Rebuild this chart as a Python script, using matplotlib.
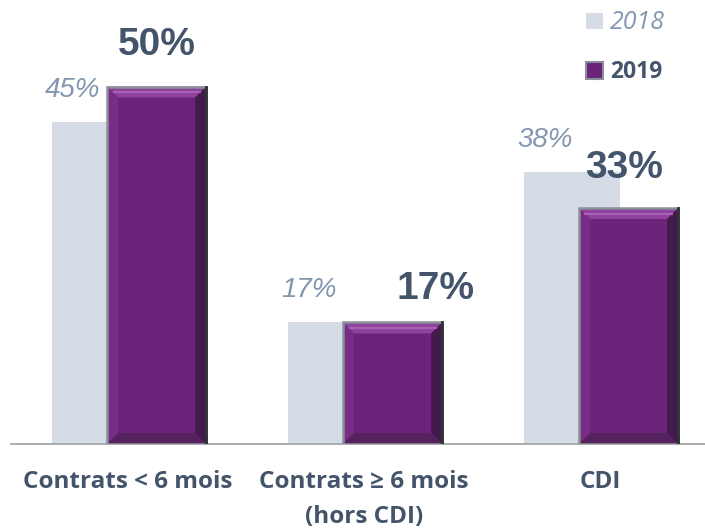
import numpy as np
import matplotlib
matplotlib.use('Agg')
import matplotlib.pyplot as plt
from matplotlib.patches import Polygon, Patch

# data
categories = ['Contrats < 6 mois', 'Contrats \u2265 6 mois\n(hors CDI)', 'CDI']
values_2018 = [45, 17, 38]
values_2019 = [50, 17, 33]
series_names = ['2018', '2019']

# small nudges (in points) for the 2019 labels, as in the original
label_dx_2019 = [0, 31, -3]
label_dy_2019 = [23, 17, 22]

GREY = '#d6dce5'
PURPLE = '#6b2479'
DARK = '#44546a'
LIGHT_TXT = '#8497b0'

fig = plt.figure(figsize=(7.05, 5.32), dpi=100)
ax = fig.add_axes([11 / 705, 88 / 532, 694 / 705, 444 / 532])
ax.set_xlim(-0.496, 2.445)
ax.set_ylim(0, 62.1)

x = np.arange(len(categories))
ax.bar(x - 0.119, values_2018, width=0.407, color=GREY, zorder=1)
bars = ax.bar(x + 0.121, values_2019, width=0.42, color=PURPLE, linewidth=0, zorder=2)

# bevel effect on the 2019 bars
bx = 11 / 236
by = 11 / 7.15
for r in bars:
    x0, w, h = r.get_x(), r.get_width(), r.get_height()
    x1 = x0 + w
    faces = [
        ([(x0, h), (x1, h), (x1 - bx, h - by), (x0 + bx, h - by)], '#8e429d'),
        ([(x0, 0), (x0, h), (x0 + bx, h - by), (x0 + bx, by)], '#782c86'),
        ([(x1, 0), (x1, h), (x1 - bx, h - by), (x1 - bx, by)], '#431a4c'),
        ([(x0, 0), (x1, 0), (x1 - bx, by), (x0 + bx, by)], '#55215f'),
    ]
    for pts, c in faces:
        ax.add_patch(Polygon(pts, closed=True, facecolor=c, edgecolor='none', zorder=3))
    # light stripe in the top bevel
    ax.plot([x0 + bx * 0.5, x1 - bx * 0.5], [h - by * 0.5, h - by * 0.5],
            color='#a862b5', lw=1.5, zorder=3.5, solid_capstyle='butt')
    ax.plot([x1, x1], [0, h], color='#2e2e33', lw=2, zorder=4.5)
ax.bar(x + 0.121, values_2019, width=0.42, facecolor='none',
       edgecolor='#8a9099', linewidth=1.8, zorder=4)

# value labels
for i, v in enumerate(values_2018):
    ax.annotate(f'{v}%', (x[i] - 0.119, v), xytext=(-19.5, 18),
                textcoords='offset points', ha='center', va='baseline',
                fontsize=20, style='italic', color=LIGHT_TXT,
                family='Liberation Sans', zorder=6)
for i, v in enumerate(values_2019):
    ax.annotate(f'{v}%', (x[i] + 0.121, v),
                xytext=(label_dx_2019[i], label_dy_2019[i]),
                textcoords='offset points', ha='center', va='baseline',
                fontsize=28, weight='bold', color=DARK,
                family='Liberation Sans', zorder=6)

# axes styling
for s in ['top', 'right', 'left']:
    ax.spines[s].set_visible(False)
ax.spines['bottom'].set_color('#a6a6a6')
ax.spines['bottom'].set_linewidth(1.3)
ax.set_yticks([])
ax.set_xticks(x)
ax.set_xticklabels(categories, fontsize=17.5, weight='bold', color=DARK,
                   family='Open Sans', linespacing=1.65)
ax.tick_params(axis='x', length=0, pad=18.5)

# legend
handles = [Patch(facecolor=GREY, edgecolor='none'),
           Patch(facecolor=PURPLE, edgecolor='#8a9099', linewidth=1.5)]
leg = ax.legend(handles, series_names, loc='upper left', frameon=False,
                bbox_to_anchor=(586 / 705, 1 - 10 / 532), bbox_transform=fig.transFigure,
                borderpad=0, borderaxespad=0, handlelength=0.75, handleheight=0.75,
                handletextpad=0.3, labelspacing=1.1, prop={'family': 'Open Sans', 'size': 16.5})
t18, t19 = leg.get_texts()
t18.set_style('italic')
t18.set_color(LIGHT_TXT)
t18.set_fontsize(18)
t19.set_weight('bold')
t19.set_color(DARK)

fig.savefig('out.png', dpi=100)
